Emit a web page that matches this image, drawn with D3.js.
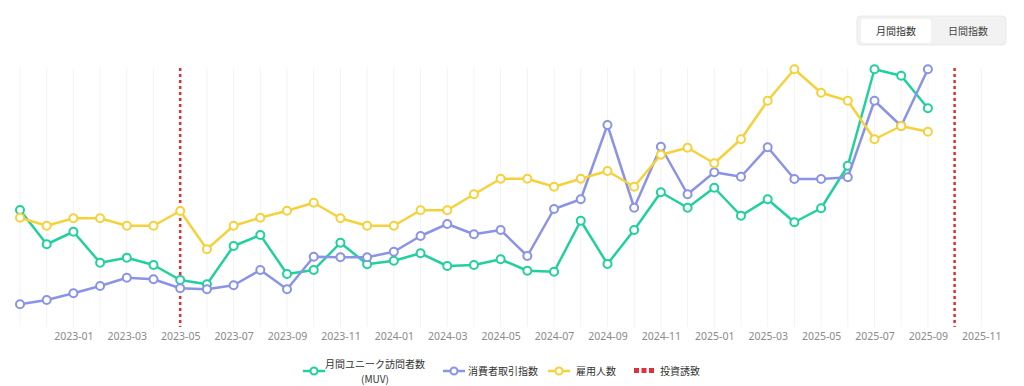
<!DOCTYPE html>
<html>
<head>
<meta charset="utf-8">
<script src="https://cdn.jsdelivr.net/npm/d3@7.9.0/dist/d3.min.js"></script>
<style>
  html, body { margin: 0; padding: 0; background: #fff; }
  svg { display: block; font-family: "Noto Sans CJK JP", "Noto Sans", sans-serif; }
</style>
</head>
<body>
<svg id="chart" width="1024" height="386"></svg>
<script>
// axis months, 2022-11 .. 2025-11
const axisMonths = [
  "2022-11", "2022-12",
  "2023-01", "2023-02", "2023-03", "2023-04", "2023-05", "2023-06",
  "2023-07", "2023-08", "2023-09", "2023-10", "2023-11", "2023-12",
  "2024-01", "2024-02", "2024-03", "2024-04", "2024-05", "2024-06",
  "2024-07", "2024-08", "2024-09", "2024-10", "2024-11", "2024-12",
  "2025-01", "2025-02", "2025-03", "2025-04", "2025-05", "2025-06",
  "2025-07", "2025-08", "2025-09", "2025-10", "2025-11"
];
const dataMonths = axisMonths.slice(0, 35); // data up to 2025-09

const tickLabels = [
  "2023-01", "2023-03", "2023-05", "2023-07", "2023-09", "2023-11",
  "2024-01", "2024-03", "2024-05", "2024-07", "2024-09", "2024-11",
  "2025-01", "2025-03", "2025-05", "2025-07", "2025-09", "2025-11"
];

// index values (0-100)
const muv = [
  43.6, 29.9, 34.9, 22.5, 24.5, 21.6, 15.6, 13.9, 29.2, 33.6, 18.0, 19.6,
  30.5, 21.9, 23.3, 26.3, 21.2, 21.6, 23.9, 19.3, 18.9, 39.3, 22.0, 35.6,
  50.7, 44.5, 52.5, 41.3, 47.9, 38.7, 44.3, 61.3, 99.9, 97.3, 84.3
];
const consumer = [
  5.9, 7.6, 10.3, 13.2, 16.5, 15.9, 12.3, 11.9, 13.5, 19.6, 11.9, 24.9,
  24.7, 24.7, 26.9, 33.2, 38.0, 33.9, 35.6, 25.2, 44.0, 47.9, 77.6, 44.5,
  68.9, 49.9, 58.7, 56.9, 68.7, 56.0, 56.0, 56.7, 87.3, 77.2, 99.9
];
const employment = [
  40.5, 37.3, 40.3, 40.3, 37.3, 37.3, 43.2, 27.9, 37.3, 40.5, 43.3, 46.5,
  40.3, 37.3, 37.3, 43.5, 43.5, 49.9, 56.1, 56.1, 52.9, 56.1, 59.2, 52.9,
  65.7, 68.5, 62.3, 71.9, 87.3, 99.9, 90.5, 87.3, 71.9, 77.2, 74.9
];

const investMonths = ["2023-05", "2025-10"];

const seriesNames = ["月間ユニーク訪問者数", "消費者取引指数", "雇用人数"];
const seriesColors = ["#22d09e", "#8a93e8", "#f5d23c"];
const investColor = "#e0303c";

const series = [muv, consumer, employment].map((vals, i) => ({
  name: seriesNames[i],
  color: seriesColors[i],
  values: vals.map((v, j) => ({ month: dataMonths[j], value: v }))
}));

const svg = d3.select("#chart");

const x = d3.scalePoint().domain(axisMonths).range([20, 981.3]);
const y = d3.scaleLinear().domain([0, 100]).range([319, 69]);

const gridTop = 68, gridBottom = 327;

// vertical grid
svg.append("g")
  .selectAll("line")
  .data(axisMonths)
  .join("line")
  .attr("x1", d => x(d)).attr("x2", d => x(d))
  .attr("y1", gridTop).attr("y2", gridBottom)
  .attr("stroke", "#f3f3f3")
  .attr("stroke-width", 1);

// x axis labels
const xAxis = svg.append("g")
  .attr("transform", `translate(0,${gridBottom})`)
  .call(d3.axisBottom(x).tickValues(tickLabels).tickSize(0).tickPadding(6));
xAxis.select(".domain").remove();
xAxis.selectAll("text")
  .attr("fill", "#8a8a8a")
  .style("font-size", "10.5px")
  .style("font-family", "'Noto Sans', sans-serif");

// investment markers
svg.append("g")
  .selectAll("line")
  .data(investMonths)
  .join("line")
  .attr("x1", d => x(d)).attr("x2", d => x(d))
  .attr("y1", gridTop).attr("y2", gridBottom)
  .attr("stroke", investColor)
  .attr("stroke-width", 2.5)
  .attr("stroke-dasharray", "3,3");

const line = d3.line()
  .x(d => x(d.month))
  .y(d => y(d.value));

const sg = svg.append("g")
  .selectAll("g")
  .data(series)
  .join("g");

sg.append("path")
  .attr("d", d => line(d.values))
  .attr("fill", "none")
  .attr("stroke", d => d.color)
  .attr("stroke-width", 2.5)
  .attr("stroke-linejoin", "round");

sg.each(function (s) {
  d3.select(this).selectAll("circle")
    .data(s.values)
    .join("circle")
    .attr("cx", d => x(d.month))
    .attr("cy", d => y(d.value))
    .attr("r", 4)
    .attr("fill", "#fff")
    .attr("stroke", s.color)
    .attr("stroke-width", 2);
});

// legend
const legendY = 371;
const legend = svg.append("g").style("font-size", "10px").attr("fill", "#333");

function legendLine(cx, color) {
  legend.append("line")
    .attr("x1", cx - 11).attr("x2", cx + 11)
    .attr("y1", legendY).attr("y2", legendY)
    .attr("stroke", color).attr("stroke-width", 2.5);
  legend.append("circle")
    .attr("cx", cx).attr("cy", legendY).attr("r", 3.5)
    .attr("fill", "#fff").attr("stroke", color).attr("stroke-width", 2);
}

legendLine(314, seriesColors[0]);
legend.append("text").attr("x", 375).attr("y", 368)
  .attr("text-anchor", "middle").text(seriesNames[0]);
legend.append("text").attr("x", 375).attr("y", 383)
  .attr("text-anchor", "middle").text("(MUV)");

legendLine(454, seriesColors[1]);
legend.append("text").attr("x", 468).attr("y", legendY + 3.5).text(seriesNames[1]);

legendLine(559, seriesColors[2]);
legend.append("text").attr("x", 576).attr("y", legendY + 3.5).text(seriesNames[2]);

legend.selectAll("rect.inv")
  .data([0, 1, 2])
  .join("rect")
  .attr("class", "inv")
  .attr("x", d => 634 + d * 7.5)
  .attr("y", legendY - 3)
  .attr("width", 5).attr("height", 5)
  .attr("fill", investColor);
legend.append("text").attr("x", 660).attr("y", legendY + 3.5).text("投資誘致");

// toggle buttons
const btn = svg.append("g").style("font-size", "10px");
btn.append("rect")
  .attr("x", 857).attr("y", 16).attr("width", 149).attr("height", 29)
  .attr("rx", 4).attr("fill", "#f2f2f2").attr("stroke", "#e9e9e9");
btn.append("rect")
  .attr("x", 861).attr("y", 19).attr("width", 70).attr("height", 24)
  .attr("rx", 3).attr("fill", "#fff");
btn.append("text").attr("x", 896).attr("y", 34.5)
  .attr("text-anchor", "middle").attr("fill", "#333").text("月間指数");
btn.append("text").attr("x", 968).attr("y", 34.5)
  .attr("text-anchor", "middle").attr("fill", "#444").text("日間指数");
</script>
</body>
</html>
